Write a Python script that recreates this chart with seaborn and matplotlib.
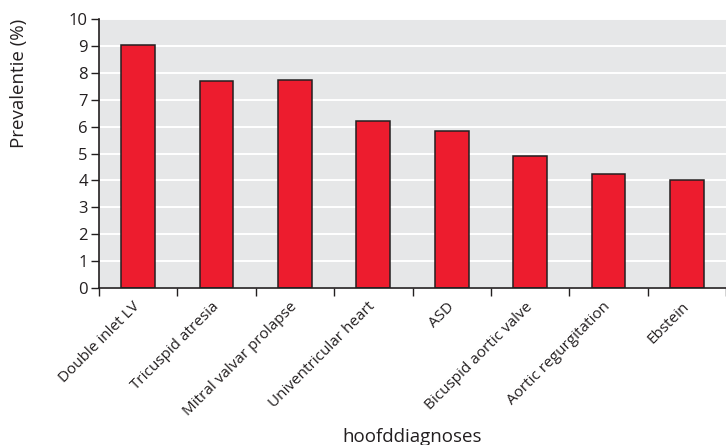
import matplotlib
matplotlib.use("Agg")
import matplotlib.pyplot as plt
from matplotlib.ticker import FixedLocator, NullFormatter
import seaborn as sns
import pandas as pd

# Prevalence per main diagnosis
diagnoses = [
    "Double inlet LV",
    "Tricuspid atresia",
    "Mitral valvar prolapse",
    "Univentricular heart",
    "ASD",
    "Bicuspid aortic valve",
    "Aortic regurgitation",
    "Ebstein",
]
prevalence = [9.05, 7.68, 7.73, 6.2, 5.82, 4.9, 4.25, 4.03]
y_ticks = list(range(0, 11))

df = pd.DataFrame({"diagnose": diagnoses, "prevalentie": prevalence})

sns.set_theme(style="darkgrid")
plt.rcParams["font.family"] = ["Open Sans", "DejaVu Sans"]

ink = "#231f20"
fig = plt.figure(figsize=(7.26, 4.45), dpi=100)
ax = fig.add_axes([99 / 726, 1 - 288 / 445, (726 - 99) / 726, (288 - 19) / 445])
ax.set_facecolor("#e6e7e8")

sns.barplot(data=df, x="diagnose", y="prevalentie", ax=ax, color="#ed1c2e",
            saturation=1, width=0.43, edgecolor=ink, linewidth=1.1)

ax.set_xlim(-0.5, len(diagnoses) - 0.5)
ax.set_ylim(0, 10)
ax.set_yticks(y_ticks)
ax.set_yticklabels([str(v) for v in y_ticks], fontsize=12, color=ink)

ax.grid(axis="y", color="white", linewidth=1.4)
ax.grid(axis="x", visible=False)
ax.set_axisbelow(True)

for side in ["top", "right"]:
    ax.spines[side].set_visible(False)
for side in ["left", "bottom"]:
    ax.spines[side].set_visible(True)
    ax.spines[side].set_color(ink)
    ax.spines[side].set_linewidth(1.2)

ax.tick_params(axis="y", which="major", direction="out", length=6, width=1,
               color=ink, pad=2, left=True)

# category labels sit at bar centres; tick marks sit on the category boundaries
ax.set_xticks(range(len(diagnoses)))
ax.set_xticklabels(diagnoses, rotation=45, ha="right", va="center",
                   rotation_mode="anchor", fontsize=11, color=ink)
ax.tick_params(axis="x", which="major", length=0, pad=12)
ax.xaxis.set_minor_locator(FixedLocator([i - 0.5 for i in range(len(diagnoses) + 1)]))
ax.xaxis.set_minor_formatter(NullFormatter())
ax.tick_params(axis="x", which="minor", direction="out", length=6, width=1,
               color=ink, bottom=True)

ax.set_xlabel("hoofddiagnoses", fontsize=13.5, color=ink)
ax.xaxis.set_label_coords(0.5, -0.52)
ax.set_ylabel("Prevalentie (%)", fontsize=13.5, color=ink)
ax.yaxis.set_label_coords(-0.113, 0.762)

fig.savefig("out.png", dpi=100)
